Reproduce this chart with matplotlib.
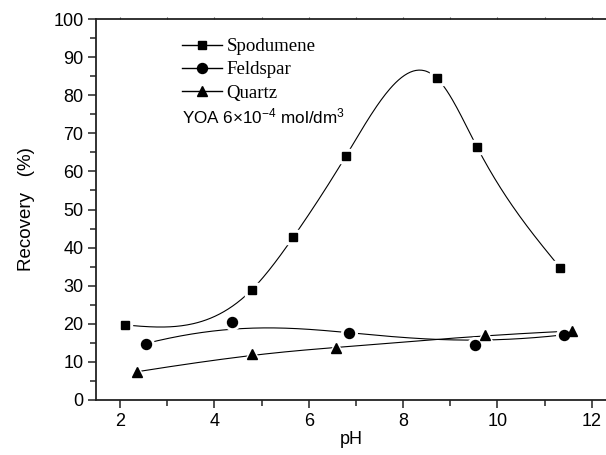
import numpy as np
import matplotlib
matplotlib.use('Agg')
from matplotlib import pyplot as plt
from matplotlib.lines import Line2D

plt.rcParams['font.family'] = ['Liberation Sans', 'DejaVu Sans']
plt.rcParams['mathtext.fontset'] = 'custom'
plt.rcParams['mathtext.rm'] = 'Liberation Sans'
plt.rcParams['mathtext.it'] = 'Liberation Sans:italic'

# values
spod_ph = [2.10, 4.79, 5.67, 6.79, 8.72, 9.57, 11.33]
spod_rec = [19.7, 28.9, 42.7, 64.1, 84.4, 66.3, 34.7]
feld_ph = [2.54, 4.37, 6.86, 9.53, 11.40]
feld_rec = [14.8, 20.5, 17.7, 14.5, 17.1]
quartz_ph = [2.35, 4.80, 6.57, 9.74, 11.58]
quartz_rec = [7.4, 12.2, 13.6, 17.1, 18.1]

x_ticks = [2, 4, 6, 8, 10, 12]
y_ticks = [0, 10, 20, 30, 40, 50, 60, 70, 80, 90, 100]


def natural_spline(x, y, n=300):
    x, y = np.asarray(x, float), np.asarray(y, float)
    m = len(x)
    h = np.diff(x)
    A = np.zeros((m, m))
    b = np.zeros(m)
    A[0, 0] = A[-1, -1] = 1
    for i in range(1, m - 1):
        A[i, i - 1] = h[i - 1]
        A[i, i] = 2 * (h[i - 1] + h[i])
        A[i, i + 1] = h[i]
        b[i] = 3 * ((y[i + 1] - y[i]) / h[i] - (y[i] - y[i - 1]) / h[i - 1])
    c = np.linalg.solve(A, b)
    xs = np.linspace(x[0], x[-1], n)
    ys = np.empty_like(xs)
    for k, xv in enumerate(xs):
        i = min(np.searchsorted(x, xv, side='right') - 1, m - 2)
        dx = xv - x[i]
        bi = (y[i + 1] - y[i]) / h[i] - h[i] * (2 * c[i] + c[i + 1]) / 3
        di = (c[i + 1] - c[i]) / (3 * h[i])
        ys[k] = y[i] + bi * dx + c[i] * dx ** 2 + di * dx ** 3
    return xs, ys


def bspline(x, y, n=300, k=3):
    pts = np.column_stack([x, y]).astype(float)
    m = len(pts)
    inner = np.linspace(0, 1, m - k + 1)[1:-1]
    t = np.concatenate([[0] * (k + 1), inner, [1] * (k + 1)])
    u = np.linspace(0, 1, n)
    u[-1] -= 1e-9

    def basis(i, p, uu):
        if p == 0:
            return np.where((t[i] <= uu) & (uu < t[i + 1]), 1.0, 0.0)
        out = np.zeros_like(uu)
        if t[i + p] != t[i]:
            out += (uu - t[i]) / (t[i + p] - t[i]) * basis(i, p - 1, uu)
        if t[i + p + 1] != t[i + 1]:
            out += (t[i + p + 1] - uu) / (t[i + p + 1] - t[i + 1]) * basis(i + 1, p - 1, uu)
        return out

    N = np.array([basis(i, k, u) for i in range(m)])
    curve = N.T @ pts
    return curve[:, 0], curve[:, 1]


fig = plt.figure(figsize=(6.06, 4.55), dpi=100)
ax = fig.add_axes([96 / 606, 55 / 455, 510 / 606, 381 / 455])

series = [
    (spod_ph, spod_rec, 's', 5.8, natural_spline),
    (feld_ph, feld_rec, 'o', 7.2, bspline),
    (quartz_ph, quartz_rec, '^', 7.6, bspline),
]
for px, py, mk, ms, fn in series:
    cx, cy = fn(px, py)
    ax.plot(cx, cy, color='black', lw=0.8, zorder=2)
    ax.plot(px, py, ls='none', marker=mk, ms=ms + 4, color='white', mec='white', zorder=3)
    ax.plot(px, py, ls='none', marker=mk, ms=ms, color='black', mec='black', zorder=4)

ax.set_xlim(1.49, 12.3)
ax.set_ylim(0, 100)
ax.set_xticks(x_ticks)
ax.set_yticks(y_ticks)
ax.set_xticks(np.arange(3, 12.1, 2), minor=True)
ax.set_yticks(np.arange(5, 100, 10), minor=True)
ax.tick_params(which='major', direction='out', length=6, width=1.1, labelsize=13, pad=3,
               colors='#222222', labelcolor='black')
ax.tick_params(which='minor', direction='out', length=4, width=1.1, colors='#222222')
ax.spines['right'].set_visible(False)
for s in ['left', 'bottom', 'top']:
    ax.spines[s].set_linewidth(1.3)
    ax.spines[s].set_color('#222222')

top = ax.secondary_xaxis('top')
top.set_xticks(x_ticks)
top.set_xticks(np.arange(3, 12.1, 2), minor=True)
top.tick_params(which='both', direction='out', length=1.5, width=0.8, labeltop=False,
                colors='#555555')
top.spines['top'].set_visible(False)

ax.set_xlabel('pH', fontsize=13, labelpad=1)
ax.set_ylabel('Recovery   (%)', fontsize=13.5, labelpad=13)

handles = [
    Line2D([], [], color='black', lw=1, marker='s', ms=5.8),
    Line2D([], [], color='black', lw=1, marker='o', ms=7.2),
    Line2D([], [], color='black', lw=1, marker='^', ms=7.6),
]
ax.legend(handles, ['Spodumene', 'Feldspar', 'Quartz'], loc='upper left',
          bbox_to_anchor=(0.135, 0.995), frameon=False,
          prop={'family': 'Liberation Serif', 'size': 13.6},
          handlelength=2.1, handletextpad=0.27, labelspacing=0.32)
ax.text(0.169, 0.745, r'YOA 6$\times$10$^{-4}$ mol/dm$^{3}$', transform=ax.transAxes,
        fontsize=12.3, va='center', ha='left')

fig.savefig('out.png', dpi=100)
